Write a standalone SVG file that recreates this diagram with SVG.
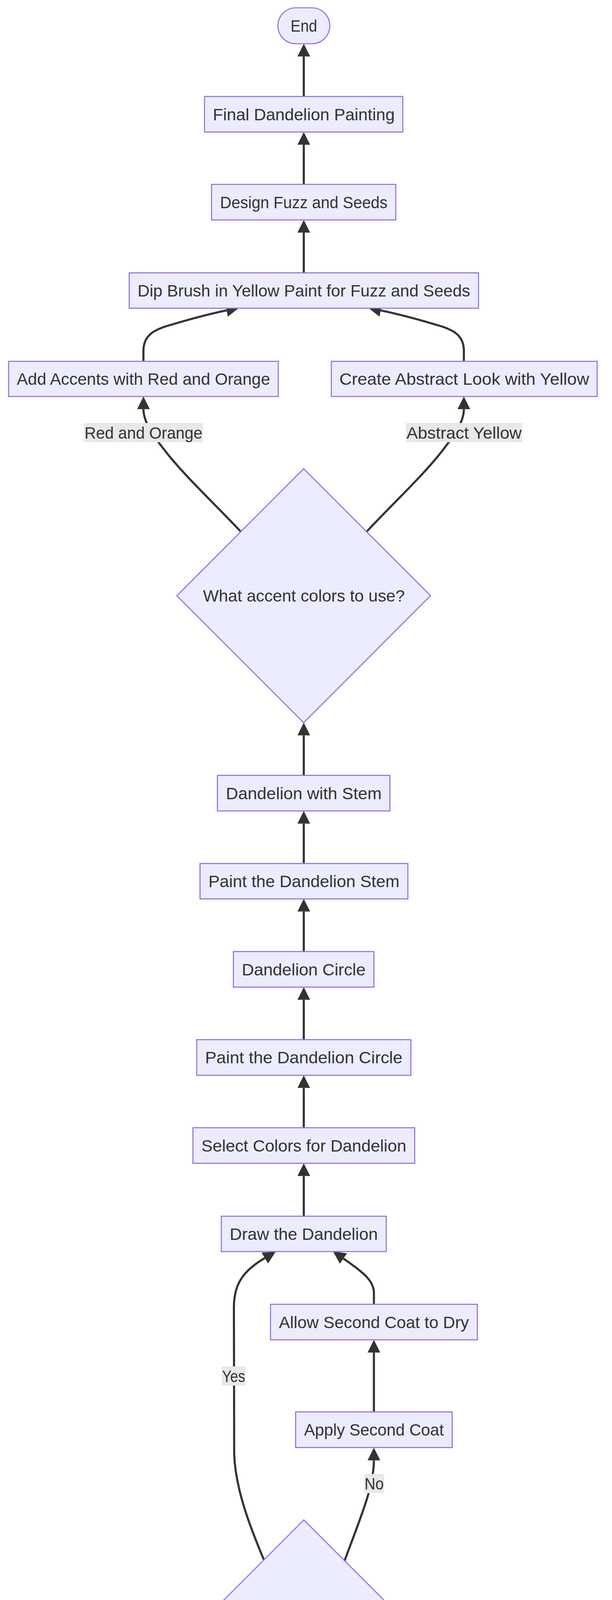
<svg xmlns="http://www.w3.org/2000/svg" width="1568" height="5384" viewBox="0 0 1568 5384">
<style>
  .bg { fill: #ffffff; }
  .box { fill: #ECECFF; stroke: #9370DB; stroke-width: 2.7; }
  .t { font-family: "Liberation Sans", Arial, sans-serif; font-size: 43px; fill: #333333; text-anchor: middle; }
  .edge { fill: none; stroke: #333333; stroke-width: 5.4; stroke-linecap: butt; }
  .elbg { fill: #e8e8e8; }
</style>
<defs>
  <marker id="arrow" viewBox="0 0 10 10" refX="0" refY="5" markerUnits="userSpaceOnUse" markerWidth="32.5" markerHeight="32.5" orient="auto">
    <path d="M0,0 L10,5 L0,10 z" fill="#333333"/>
  </marker>
</defs>
<rect class="bg" x="0" y="0" width="1568" height="5384"/>

<g id="connectors">
  <path class="edge" marker-end="url(#arrow)" d="M778.3,5215 L778.3,5113.5"/>
  <path class="edge" marker-end="url(#arrow)" d="M778.3,4990 L778.3,4887.2"/>
  <path class="edge" marker-end="url(#arrow)" d="M778.3,4764 L778.3,4661.5"/>
  <path class="edge" marker-end="url(#arrow)" d="M676,3993 C650,3930 603,3820 600,3722 L599.3,3347 C599.3,3290 620,3255 678.4,3220.7"/>
  <path class="edge" marker-end="url(#arrow)" d="M883,3995 C905,3935 935,3860 945,3820 C952,3790 958,3765 958,3738.5"/>
  <path class="edge" marker-end="url(#arrow)" d="M958,3614.5 L958,3462.5"/>
  <path class="edge" marker-end="url(#arrow)" d="M958,3339 L958,3310 C958,3280 935,3260 880,3222"/>
  <path class="edge" marker-end="url(#arrow)" d="M778.3,3113.5 L778.3,3010.5"/>
  <path class="edge" marker-end="url(#arrow)" d="M778.3,2887 L778.3,2785.3"/>
  <path class="edge" marker-end="url(#arrow)" d="M778.3,2661.6 L778.3,2559.5"/>
  <path class="edge" marker-end="url(#arrow)" d="M778.3,2436 L778.3,2333.5"/>
  <path class="edge" marker-end="url(#arrow)" d="M778.3,2210.6 L778.3,2108.5"/>
  <path class="edge" marker-end="url(#arrow)" d="M778.3,1985 L778.3,1882.5"/>
  <path class="edge" marker-end="url(#arrow)" d="M617,1361 C560,1300 480,1225 430,1163 C400,1125 367.5,1085 367.5,1047.5"/>
  <path class="edge" marker-end="url(#arrow)" d="M939.5,1361 C996,1300 1076,1225 1126,1163 C1156,1125 1188.5,1085 1188.5,1047.5"/>
  <path class="edge" marker-end="url(#arrow)" d="M367.5,925 L367.5,898 C367.5,858 395,843 440,831 C490,816 540,803 580.4,794.7"/>
  <path class="edge" marker-end="url(#arrow)" d="M1188.5,925 L1188.5,898 C1188.5,858 1161,843 1116,831 C1066,816 1016,803 975.6,794.7"/>
  <path class="edge" marker-end="url(#arrow)" d="M778.3,698.5 L778.3,595.5"/>
  <path class="edge" marker-end="url(#arrow)" d="M778.3,472 L778.3,370.5"/>
  <path class="edge" marker-end="url(#arrow)" d="M778.3,247 L778.3,144.5"/>

  <g id="edge-labels">
    <rect class="elbg" x="215" y="1083" width="305" height="49"/>
    <text class="t" x="367.5" y="1122.5" textLength="302" lengthAdjust="spacingAndGlyphs">Red and Orange</text>
    <rect class="elbg" x="1040" y="1083" width="298" height="49"/>
    <text class="t" x="1189" y="1122.5" textLength="295" lengthAdjust="spacingAndGlyphs">Abstract Yellow</text>
    <rect class="elbg" x="568" y="3498" width="61" height="49"/>
    <text class="t" x="598.5" y="3537.5" textLength="59" lengthAdjust="spacingAndGlyphs">Yes</text>
    <rect class="elbg" x="933" y="3773.5" width="51" height="49"/>
    <text class="t" x="958.5" y="3813" textLength="49" lengthAdjust="spacingAndGlyphs">No</text>
  </g>
</g>

<g id="node-end">
  <rect class="box" x="712" y="20" width="133" height="92" rx="46" ry="46"/>
  <text class="t" x="778.5" y="81" textLength="68" lengthAdjust="spacingAndGlyphs">End</text>
</g>
<g id="node-final">
  <rect class="box" x="524" y="247" width="508" height="91"/>
  <text class="t" x="778.3" y="307.5" textLength="466" lengthAdjust="spacingAndGlyphs">Final Dandelion Painting</text>
</g>
<g id="node-design">
  <rect class="box" x="542" y="472" width="472" height="91"/>
  <text class="t" x="778.3" y="532.5" textLength="429" lengthAdjust="spacingAndGlyphs">Design Fuzz and Seeds</text>
</g>
<g id="node-dip">
  <rect class="box" x="331" y="698.5" width="895" height="90.5"/>
  <text class="t" x="778.5" y="758.7" textLength="852" lengthAdjust="spacingAndGlyphs">Dip Brush in Yellow Paint for Fuzz and Seeds</text>
</g>
<g id="node-accents">
  <rect class="box" x="22" y="925" width="691" height="90"/>
  <text class="t" x="367.5" y="985" textLength="649" lengthAdjust="spacingAndGlyphs">Add Accents with Red and Orange</text>
</g>
<g id="node-abstract">
  <rect class="box" x="849" y="925" width="681" height="90"/>
  <text class="t" x="1189.5" y="985" textLength="640" lengthAdjust="spacingAndGlyphs">Create Abstract Look with Yellow</text>
</g>
<g id="node-accent-decision">
  <polygon class="box" points="778,1200 1103,1525 778,1850 453,1525"/>
  <text class="t" x="778.5" y="1540" textLength="517" lengthAdjust="spacingAndGlyphs">What accent colors to use?</text>
</g>
<g id="node-dandelion-stem">
  <rect class="box" x="557" y="1985" width="442" height="91"/>
  <text class="t" x="778.3" y="2045.5" textLength="399" lengthAdjust="spacingAndGlyphs">Dandelion with Stem</text>
</g>
<g id="node-paint-stem">
  <rect class="box" x="512.5" y="2210.6" width="532.5" height="90.5"/>
  <text class="t" x="778.7" y="2270.8" textLength="489.5" lengthAdjust="spacingAndGlyphs">Paint the Dandelion Stem</text>
</g>
<g id="node-dandelion-circle">
  <rect class="box" x="598" y="2436" width="360" height="91"/>
  <text class="t" x="778" y="2496.5" textLength="317" lengthAdjust="spacingAndGlyphs">Dandelion Circle</text>
</g>
<g id="node-paint-circle">
  <rect class="box" x="504" y="2661.6" width="548.7" height="91.2"/>
  <text class="t" x="778.3" y="2722.2" textLength="505.7" lengthAdjust="spacingAndGlyphs">Paint the Dandelion Circle</text>
</g>
<g id="node-select-colors">
  <rect class="box" x="494.3" y="2887" width="568.2" height="91"/>
  <text class="t" x="778.4" y="2947.5" textLength="525" lengthAdjust="spacingAndGlyphs">Select Colors for Dandelion</text>
</g>
<g id="node-draw">
  <rect class="box" x="567" y="3113.5" width="422.5" height="90.5"/>
  <text class="t" x="778.3" y="3173.7" textLength="379.5" lengthAdjust="spacingAndGlyphs">Draw the Dandelion</text>
</g>
<g id="node-dry">
  <rect class="box" x="693" y="3339" width="530" height="91"/>
  <text class="t" x="958" y="3399.5" textLength="487" lengthAdjust="spacingAndGlyphs">Allow Second Coat to Dry</text>
</g>
<g id="node-second-coat">
  <rect class="box" x="757.5" y="3614.5" width="401" height="91.2"/>
  <text class="t" x="958" y="3675.1" textLength="358" lengthAdjust="spacingAndGlyphs">Apply Second Coat</text>
</g>
<g id="node-depth-decision">
  <polygon class="box" points="778.3,3891 1147.3,4260 778.3,4629 409.3,4260"/>
  <text class="t" x="778.3" y="4275.5" textLength="604.7" lengthAdjust="spacingAndGlyphs">Is the paint color deep enough?</text>
</g>
<g id="node-base">
  <rect class="box" x="629.6" y="4764" width="297.4" height="90.7"/>
  <text class="t" x="778.3" y="4824.3" textLength="254.4" lengthAdjust="spacingAndGlyphs">Base Painting</text>
</g>
<g id="node-prepare">
  <rect class="box" x="534.5" y="4990" width="488" height="91"/>
  <text class="t" x="778.5" y="5050.5" textLength="445" lengthAdjust="spacingAndGlyphs">Prepare the Workspace</text>
</g>
<g id="node-start">
  <rect class="box" x="699.2" y="5215.3" width="158.4" height="91" rx="45.5" ry="45.5"/>
  <text class="t" x="778.4" y="5275.8" textLength="93" lengthAdjust="spacingAndGlyphs">Start</text>
</g>
</svg>
